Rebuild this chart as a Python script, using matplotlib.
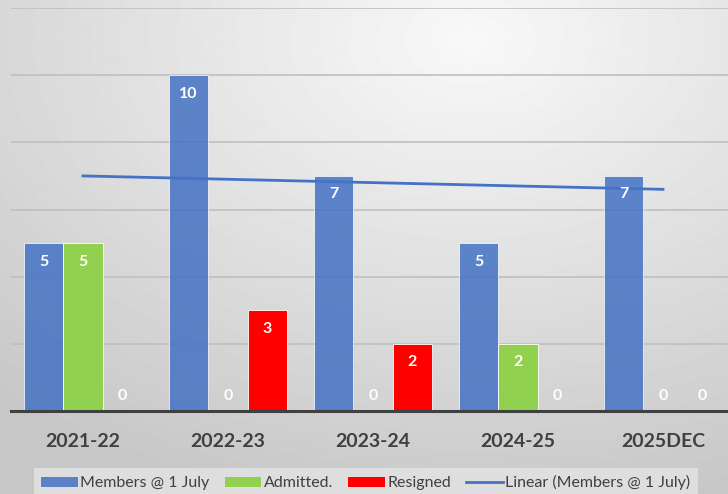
import matplotlib
matplotlib.use("Agg")
import matplotlib.pyplot as plt
import numpy as np
from matplotlib.patches import Patch
from matplotlib.lines import Line2D

categories = ["2021-22", "2022-23", "2023-24", "2024-25", "2025DEC"]
members = [5, 10, 7, 5, 7]
admitted = [5, 0, 0, 2, 0]
resigned = [0, 3, 2, 0, 0]

BLUE = "#4472C4"
GREEN = "#92D050"
RED = "#FF0000"
TEXT = "#404040"

plt.rcParams["font.family"] = ["Lato", "DejaVu Sans"]

W, H = 728, 494
fig = plt.figure(figsize=(W / 100, H / 100), dpi=100)

# radial grey gradient background
bg = fig.add_axes([0, 0, 1, 1], zorder=-10)
yy, xx = np.mgrid[0:H, 0:W]
r = np.sqrt(((xx - 470) / W) ** 2 + ((yy - 40) / H) ** 2)
shade = np.clip(0.975 - 0.2 * r, 0.78, 1.0)
bg.imshow(shade, cmap="gray", vmin=0, vmax=1, aspect="auto", extent=[0, W, H, 0])
bg.axis("off")

ax = fig.add_axes([10.5 / W, 1 - 411 / H, 725 / W, 403 / H])
ax.patch.set_alpha(0)

x = np.arange(len(categories))
bw = 0.269
step = 0.272
series = [(members, BLUE, 0.85), (admitted, GREEN, 1.0), (resigned, RED, 1.0)]
for i, (vals, col, a) in enumerate(series):
    pos = x + (i - 1) * step
    ax.bar(pos, vals, bw, color=col, alpha=a, edgecolor="white", linewidth=0.6, zorder=3)
    for p, v in zip(pos, vals):
        yl = v - 0.55 if v > 0 else 0.45
        ax.text(p, yl, str(v), ha="center", va="center", color="white",
                fontsize=11.5, fontweight="bold", zorder=5)

# linear trend of members
k, b = np.polyfit(x, members, 1)
ax.plot(x, k * x + b, color=BLUE, lw=2, zorder=4)

ax.set_xlim(-0.5, len(categories) - 0.5)
ax.set_ylim(0, 12)
ax.set_yticks(np.arange(0, 13, 2))
ax.yaxis.grid(True, color="#bfbfbf", lw=1.2, zorder=0)
ax.tick_params(axis="y", left=False, labelleft=False)
ax.tick_params(axis="x", length=0, pad=16)
ax.set_xticks(x)
ax.set_xticklabels(categories, fontsize=14, fontweight="bold", color=TEXT)
for s in ["top", "right", "left"]:
    ax.spines[s].set_visible(False)
ax.spines["bottom"].set_color(TEXT)
ax.spines["bottom"].set_linewidth(2.2)
ax.spines["bottom"].set_zorder(6)

handles = [
    Patch(facecolor=BLUE, alpha=0.85, label="Members @ 1 July"),
    Patch(facecolor=GREEN, label="Admitted."),
    Patch(facecolor=RED, label="Resigned"),
    Line2D([0], [0], color=BLUE, lw=2, label="Linear (Members @ 1 July)"),
]
leg = fig.legend(handles=handles, loc="upper left", bbox_to_anchor=(26 / W, 1 - 460 / H),
                 ncol=4, fontsize=11.5, frameon=True, fancybox=False, borderpad=0.45,
                 handlelength=2.3, handleheight=0.6, handletextpad=0.15, columnspacing=0.95,
                 labelcolor=TEXT)
leg.get_frame().set_facecolor("#e4e4e4")
leg.get_frame().set_edgecolor("none")

fig.savefig("out.png", dpi=100)
